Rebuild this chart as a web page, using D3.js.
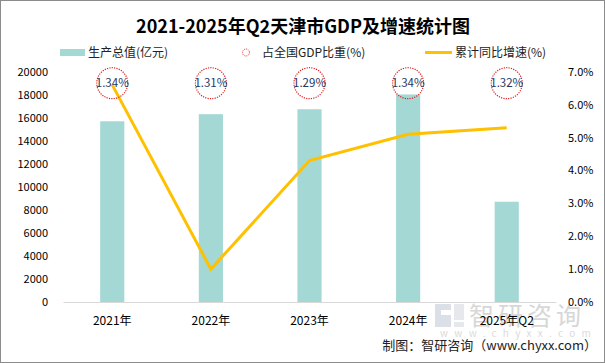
<!DOCTYPE html>
<html><head><meta charset="utf-8">
<script src="https://cdn.jsdelivr.net/npm/d3@7"></script>
<style>
html,body{margin:0;padding:0;background:#fff;}
svg{display:block;}
text{font-family:"Microsoft YaHei","Noto Sans CJK SC","Noto Sans",sans-serif;}
</style></head>
<body>
<svg id="chart" width="605" height="363"></svg>
<script>
const categories = ["2021年","2022年","2023年","2024年","2025年Q2"];
const gdpValues = [15695, 16311, 16737, 18024, 8708];
const shareValues = [1.34, 1.31, 1.29, 1.34, 1.32];
const growthValues = [6.6, 1.0, 4.3, 5.1, 5.3];
const leftTicks = [0,2000,4000,6000,8000,10000,12000,14000,16000,18000,20000];
const rightTicks = [0,1,2,3,4,5,6,7];
const titleText = "2021-2025年Q2天津市GDP及增速统计图";
const legendLabels = ["生产总值(亿元)","占全国GDP比重(%)","累计同比增速(%)"];
const sourceText = "制图：智研咨询（www.chyxx.com）";

const W = 605, H = 363;
const svg = d3.select("#chart");
const barColor = "#a4d8d5", lineColor = "#ffc000";

svg.append("rect").attr("x",0.5).attr("y",0.5).attr("width",W-1).attr("height",H-1)
  .attr("fill","#fff").attr("stroke","#8c8c8c").attr("stroke-width",1);

const plot = {left:63, right:556, top:71.7, bottom:302};
const x = d3.scaleBand().domain(categories).range([plot.left, plot.right]).paddingInner(0.755).paddingOuter(0.377);
const yL = d3.scaleLinear().domain([0,20000]).range([plot.bottom, plot.top]);
const yR = d3.scaleLinear().domain([0,7]).range([plot.bottom, plot.top]);

// watermark
const wm = svg.append("g").attr("opacity",0.5);
wm.append("path").attr("d","M435,304 h16 v6 h-10 v5 h10 v12 h-16 z").attr("fill","#b9c3d3");
wm.append("path").attr("d","M454,304 h10 v16 h-10 z M454,322 h10 v5 h-10 z").attr("fill","#cdd4df");
wm.append("text").attr("x",469).attr("y",325).attr("font-size",25).attr("fill","#b0b0b0").attr("letter-spacing",4).text("智研咨询");
wm.append("text").attr("x",440).attr("y",337).attr("font-size",10).attr("fill","#b8b8b8").attr("letter-spacing",6.3).text("www.chyxx.com");

// title
svg.append("text").attr("x",303).attr("y",33).attr("text-anchor","middle")
  .attr("font-size",18).attr("font-weight","bold").attr("fill","#000").text(titleText);

// legend
const lg = svg.append("g");
lg.append("rect").attr("x",60).attr("y",49).attr("width",25).attr("height",7).attr("fill",barColor);
lg.append("text").attr("x",88).attr("y",57).attr("font-size",12).attr("fill","#222").text(legendLabels[0]);
lg.append("circle").attr("cx",246).attr("cy",52.5).attr("r",3.5).attr("fill","none").attr("stroke","#e03030").attr("stroke-width",1).attr("stroke-dasharray","1,1");
lg.append("text").attr("x",262).attr("y",57).attr("font-size",12).attr("fill","#222").text(legendLabels[1]);
lg.append("line").attr("x1",425).attr("x2",452).attr("y1",52.5).attr("y2",52.5).attr("stroke",lineColor).attr("stroke-width",3);
lg.append("text").attr("x",455).attr("y",57).attr("font-size",12).attr("fill","#222").text(legendLabels[2]);

// left axis
const axL = svg.append("g").attr("transform",`translate(${plot.left},0)`)
  .call(d3.axisLeft(yL).tickValues(leftTicks).tickSize(0).tickPadding(15).tickFormat(d3.format("d")));
axL.select(".domain").remove();
axL.selectAll("text").attr("font-size",11).attr("fill","#000").attr("font-family","Calibri,'Liberation Sans','Noto Sans',sans-serif");

// right axis
const axR = svg.append("g").attr("transform",`translate(${plot.right},0)`)
  .call(d3.axisRight(yR).tickValues(rightTicks).tickSize(0).tickPadding(12).tickFormat(d=>d.toFixed(1)+"%"));
axR.select(".domain").remove();
axR.selectAll("text").attr("font-size",11).attr("fill","#000").attr("font-family","Calibri,'Liberation Sans','Noto Sans',sans-serif");

// bars
svg.append("g").selectAll("rect").data(gdpValues).join("rect")
  .attr("x",(d,i)=>x(categories[i])).attr("width",x.bandwidth())
  .attr("y",d=>yL(d)).attr("height",d=>plot.bottom-yL(d)).attr("fill",barColor);

// x axis
const axX = svg.append("g").attr("transform",`translate(0,${plot.bottom})`)
  .call(d3.axisBottom(x).tickSize(0).tickPadding(14));
axX.select(".domain").attr("stroke","#d9d9d9").attr("stroke-width",1);
axX.selectAll("text").attr("font-size",12).attr("fill","#000");

// line
const line = d3.line().x((d,i)=>x(categories[i])+x.bandwidth()/2).y(d=>yR(d));
svg.append("path").datum(growthValues).attr("d",line).attr("fill","none")
  .attr("stroke",lineColor).attr("stroke-width",3).attr("stroke-linejoin","miter");

// share circles with labels
const shareLevel = 19000;
const sg = svg.append("g").selectAll("g").data(shareValues).join("g")
  .attr("transform",(d,i)=>`translate(${x(categories[i])+x.bandwidth()/2},${yL(shareLevel)})`);
sg.append("circle").attr("r",15.5).attr("fill","none").attr("stroke","#e02020").attr("stroke-width",1.2).attr("stroke-dasharray","1.2,1.2");
sg.append("text").attr("text-anchor","middle").attr("dy","0.36em").attr("font-size",11.5)
  .attr("fill","#1f3864").text(d=>d.toFixed(2)+"%");

// source
svg.append("text").attr("x",597).attr("y",350).attr("text-anchor","end").attr("font-size",13).attr("fill","#222").text(sourceText);
</script>
</body></html>
